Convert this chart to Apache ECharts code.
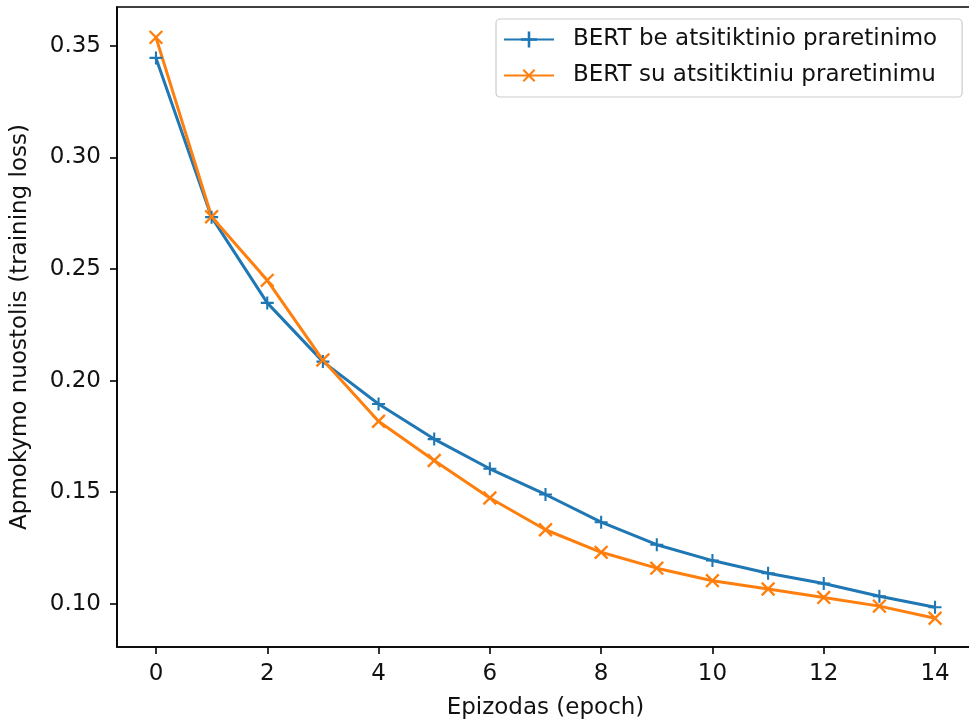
<!DOCTYPE html>
<html>
<head>
<meta charset="utf-8">
<script src="https://cdn.jsdelivr.net/npm/echarts@6/dist/echarts.min.js"></script>
<style>
html,body{margin:0;padding:0;background:#fff;overflow:hidden;}
#chart{width:969px;height:724px;}
</style>
</head>
<body>
<div id="chart"></div>
<script>
const epochs = [0,1,2,3,4,5,6,7,8,9,10,11,12,13,14];
const lossNoPrune = [0.3445, 0.2732, 0.2348, 0.2085, 0.1895, 0.1738, 0.1605, 0.1490, 0.1366, 0.1265, 0.1194, 0.1137, 0.1091, 0.1034, 0.0985];
const lossPrune = [0.3537, 0.2734, 0.2449, 0.2092, 0.1818, 0.1642, 0.1474, 0.1332, 0.1231, 0.1160, 0.1104, 0.1067, 0.1029, 0.0990, 0.0936];
const seriesNames = ['BERT be atsitiktinio praretinimo', 'BERT su atsitiktiniu praretinimu'];
const xTicks = [0,2,4,6,8,10,12,14];
const yTicks = [0.10,0.15,0.20,0.25,0.30,0.35];
const xName = 'Epizodas (epoch)';
const yName = 'Apmokymo nuostolis (training loss)';

const FONT = 'DejaVu Sans';
const TXT = '#111';
const FS = 23;
const plusPath = 'path://M0,42H100V58H0Z M42,0H58V100H42Z';
const xPath = 'path://M0,43.5H100V56.5H0Z M43.5,0H56.5V100H43.5Z';

const chart = echarts.init(document.getElementById('chart'), null, {renderer:'canvas'});
chart.setOption({
  animation: false,
  backgroundColor: '#fff',
  grid: {left: 117, top: 7, width: 857, height: 640, show: true, borderColor: '#000', borderWidth: 1.6, containLabel: false, outerBoundsMode: 'none'},
  legend: {
    orient: 'vertical', left: 496, top: 19,
    data: seriesNames,
    itemWidth: 50, itemHeight: 20, itemGap: 13,
    padding: [9, 25, 10, 7],
    borderColor: '#cccccc', borderWidth: 1.2, borderRadius: 4,
    backgroundColor: '#fff',
    textStyle: {fontFamily: FONT, fontSize: FS, color: TXT, padding: [0,0,0,14]}
  },
  xAxis: {
    type: 'value', min: -0.7, max: 14.7,
    name: xName, nameLocation: 'middle', nameGap: 50,
    nameTextStyle: {fontFamily: FONT, fontSize: FS, color: TXT},
    axisLine: {show: true, onZero: false, lineStyle: {color: '#000', width: 1.6}},
    axisTick: {show: true, length: 7, lineStyle: {color: '#000', width: 1.6}, customValues: xTicks},
    axisLabel: {fontFamily: FONT, fontSize: FS, color: TXT, margin: 16, customValues: xTicks, formatter: v => String(v)},
    splitLine: {show: false}
  },
  yAxis: {
    type: 'value', min: 0.0807, max: 0.3673,
    name: yName, nameLocation: 'middle', nameGap: 85, nameRotate: 90,
    nameTextStyle: {fontFamily: FONT, fontSize: FS, color: TXT},
    axisLine: {show: true, onZero: false, lineStyle: {color: '#000', width: 1.6}},
    axisTick: {show: true, length: 7, lineStyle: {color: '#000', width: 1.6}, customValues: yTicks},
    axisLabel: {fontFamily: FONT, fontSize: FS, color: TXT, margin: 16, customValues: yTicks, formatter: v => v.toFixed(2)},
    splitLine: {show: false}
  },
  series: [
    {
      name: seriesNames[0], type: 'line',
      data: epochs.map((e, i) => [e, lossNoPrune[i]]),
      color: '#1f77b4',
      lineStyle: {width: 3, color: '#1f77b4'},
      symbol: plusPath, symbolSize: 13, showSymbol: true,
      itemStyle: {color: '#1f77b4'}
    },
    {
      name: seriesNames[1], type: 'line',
      data: epochs.map((e, i) => [e, lossPrune[i]]),
      color: '#ff7f0e',
      lineStyle: {width: 3, color: '#ff7f0e'},
      symbol: xPath, symbolSize: 18, symbolRotate: 45, showSymbol: true,
      itemStyle: {color: '#ff7f0e'}
    }
  ]
});
</script>
</body>
</html>
